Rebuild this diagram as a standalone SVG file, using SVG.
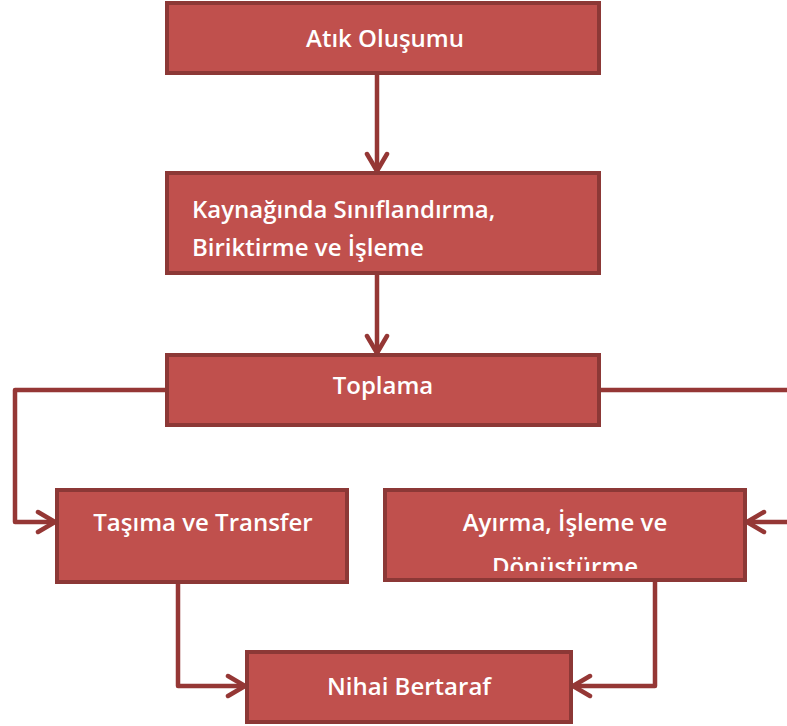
<svg xmlns="http://www.w3.org/2000/svg" width="787" height="726" viewBox="0 0 787 726">
  <style>
    .box { fill: #C0504D; stroke: #8C3836; stroke-width: 4; }
    .lbl { fill: #FFFFFF; font-family: "Open Sans", "Liberation Sans", sans-serif; font-size: 24px; font-weight: 600; }
    .mid { text-anchor: middle; }
    .wire { fill: none; stroke: #953735; stroke-width: 4.5; stroke-linejoin: round; }
  </style>
  <defs>
    <marker id="chev" viewBox="0 0 22 26" refX="20" refY="13" markerWidth="22" markerHeight="26" markerUnits="userSpaceOnUse" orient="auto">
      <path d="M3,3 L20,13 L3,23" fill="none" stroke="#953735" stroke-width="4.5" stroke-linecap="round" stroke-linejoin="round"/>
    </marker>
    <clipPath id="clipAyirma">
      <rect x="387" y="492" width="356" height="79"/>
    </clipPath>
  </defs>

  <g id="connectors">
    <path class="wire" d="M377,73 V171" marker-end="url(#chev)"/>
    <path class="wire" d="M377,273 V353" marker-end="url(#chev)"/>
    <path class="wire" d="M167,390 H15 V522 H55" marker-end="url(#chev)"/>
    <path class="wire" d="M599,390 H800 V522 H747" marker-end="url(#chev)"/>
    <path class="wire" d="M178,582 V686 H245" marker-end="url(#chev)"/>
    <path class="wire" d="M655,580 V686 H573" marker-end="url(#chev)"/>
  </g>

  <g id="atik-olusumu">
    <rect class="box" x="167" y="3" width="432" height="70"/>
    <text class="lbl mid" x="385" y="47">Atık Oluşumu</text>
  </g>

  <g id="kaynaginda">
    <rect class="box" x="167" y="173" width="432" height="100"/>
    <text class="lbl" x="192" y="218">Kaynağında Sınıflandırma,</text>
    <text class="lbl" x="192" y="256">Biriktirme ve İşleme</text>
  </g>

  <g id="toplama">
    <rect class="box" x="167" y="355" width="432" height="70"/>
    <text class="lbl mid" x="383" y="394">Toplama</text>
  </g>

  <g id="tasima">
    <rect class="box" x="57" y="490" width="290" height="92"/>
    <text class="lbl mid" x="203" y="531">Taşıma ve Transfer</text>
  </g>

  <g id="ayirma">
    <rect class="box" x="385" y="490" width="360" height="90"/>
    <text class="lbl mid" x="565" y="531">Ayırma, İşleme ve</text>
    <text class="lbl mid" x="565" y="575" clip-path="url(#clipAyirma)">Dönüştürme</text>
  </g>

  <g id="nihai-bertaraf">
    <rect class="box" x="247" y="652" width="324" height="70"/>
    <text class="lbl mid" x="409" y="695">Nihai Bertaraf</text>
  </g>
</svg>
